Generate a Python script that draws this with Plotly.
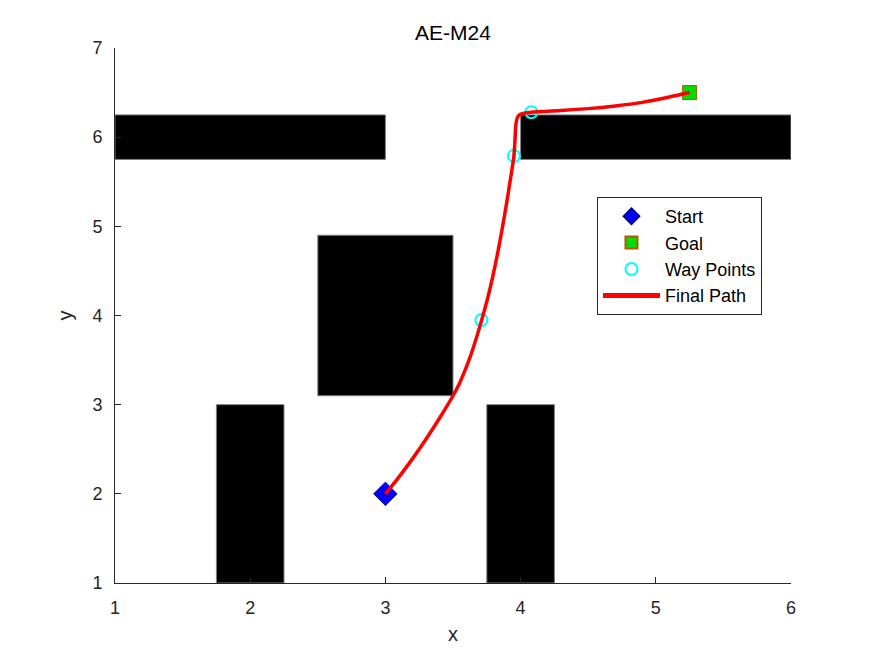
import plotly.graph_objects as go

# Obstacles (rectangles): x0, x1, y0, y1
obs_x0 = [1.0, 4.0, 2.5, 1.75, 3.75]
obs_x1 = [3.0, 6.0, 3.5, 2.25, 4.25]
obs_y0 = [5.75, 5.75, 3.1, 1.0, 1.0]
obs_y1 = [6.25, 6.25, 4.9, 3.0, 3.0]

start_x, start_y = [3.0], [2.0]
goal_x, goal_y = [5.25], [6.5]

way_x = [3.71, 3.95, 4.08]
way_y = [3.95, 5.79, 6.28]

path_x = [3.0, 3.1, 3.2, 3.3, 3.4, 3.5, 3.55, 3.6, 3.65, 3.712, 3.76, 3.81, 3.86,
          3.9, 3.93, 3.95, 3.958, 3.962, 3.968, 3.978, 3.993, 4.02, 4.08, 4.3,
          4.5, 4.7, 4.9, 5.1, 5.25]
path_y = [2.0, 2.188, 2.392, 2.612, 2.848, 3.1, 3.247, 3.426, 3.639, 3.948, 4.216,
          4.549, 4.939, 5.291, 5.579, 5.78, 5.95, 6.08, 6.17, 6.225, 6.252, 6.265,
          6.28, 6.30, 6.32, 6.35, 6.39, 6.45, 6.5]

FONT = "Liberation Sans, Arial, Helvetica"
AXC = "#262626"

fig = go.Figure()

for x0, x1, y0, y1 in zip(obs_x0, obs_x1, obs_y0, obs_y1):
    fig.add_trace(go.Scatter(
        x=[x0, x1, x1, x0, x0], y=[y0, y0, y1, y1, y0],
        mode="lines", fill="toself", fillcolor="black",
        line=dict(color="#808080", width=1),
        showlegend=False, hoverinfo="skip"))

fig.add_trace(go.Scatter(
    x=start_x, y=start_y, mode="markers", name="Start",
    marker=dict(symbol="diamond", size=18, color="#0000ff",
                line=dict(color="#0000a0", width=1))))
fig.add_trace(go.Scatter(
    x=goal_x, y=goal_y, mode="markers", name="Goal",
    marker=dict(symbol="square", size=14, color="#00dd00",
                line=dict(color="#b05a00", width=1))))
fig.add_trace(go.Scatter(
    x=way_x, y=way_y, mode="markers", name="Way Points",
    marker=dict(symbol="circle-open", size=12, color="#00ffff",
                line=dict(color="#00ffff", width=2))))
fig.add_trace(go.Scatter(
    x=path_x, y=path_y, mode="lines", name="Final Path",
    line=dict(color="#ff0000", width=3.5, shape="spline", smoothing=0.6)))

axis_common = dict(
    showgrid=False, zeroline=False, showline=True, linecolor=AXC,
    linewidth=1, ticks="inside", ticklen=6, tickcolor=AXC,
    tickfont=dict(family=FONT, size=18, color=AXC),
    mirror=False, ticklabelstandoff=8,
)

fig.update_layout(
    width=875, height=656,
    margin=dict(l=107, r=92, t=40, b=81),
    paper_bgcolor="white", plot_bgcolor="white",
    title=dict(text="AE-M24", xref="paper", x=0.5, xanchor="center",
               yref="container", y=0.962, yanchor="middle",
               font=dict(family=FONT, size=21, color="black")),
    xaxis=dict(range=[1, 6], tickvals=[1, 2, 3, 4, 5, 6],
               title=dict(text="x", font=dict(family=FONT, size=20, color=AXC), standoff=10),
               **axis_common),
    yaxis=dict(range=[1, 7], tickvals=[1, 2, 3, 4, 5, 6, 7],
               title=dict(text="y", font=dict(family=FONT, size=20, color=AXC), standoff=14),
               **axis_common),
    legend=dict(x=0.713, y=0.7215, xanchor="left", yanchor="top",
                bgcolor="white", bordercolor=AXC, borderwidth=1,
                font=dict(family=FONT, size=18, color="black"),
                itemwidth=57, itemsizing="constant", tracegroupgap=0),
    showlegend=True,
)

fig.write_html("out.html")
